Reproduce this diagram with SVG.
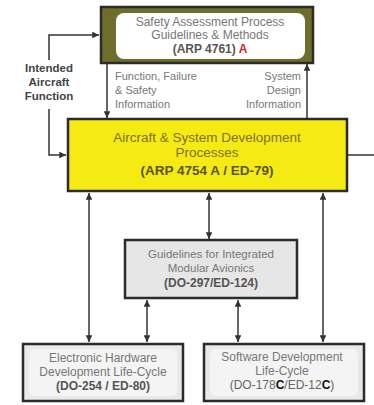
<svg xmlns="http://www.w3.org/2000/svg" width="374" height="405" viewBox="0 0 374 405">
  <style>
    text { font-family: "Liberation Sans", Arial, sans-serif; text-anchor: middle; }
    .lbl { font-size: 11px; fill: #777; }
    .lblb { font-size: 11.5px; fill: #444; font-weight: bold; }
    .gray { font-size: 12px; fill: #777; }
    .grayb { font-size: 12px; fill: #555; font-weight: bold; }
    .yel { font-size: 13.5px; fill: #7a7222; }
    .yelb { font-size: 13.5px; fill: #5a5418; font-weight: bold; }
    .conn { fill: none; stroke: #333; stroke-width: 1.5; }
    .box { stroke: #2b2b2b; stroke-width: 2.5; }
  </style>
  <defs>
    <marker id="ah" viewBox="0 0 10 10" refX="10" refY="5" markerWidth="4.5" markerHeight="4.5" orient="auto-start-reverse">
      <path d="M0,0 L10,5 L0,10 z" fill="#333"/>
    </marker>
  </defs>

  <rect width="374" height="405" fill="#ffffff"/>

  <!-- connectors -->
  <g id="connectors">
    <!-- intended aircraft function feeds -->
    <polyline class="conn" points="49,60 49,35 99,35" marker-end="url(#ah)"/>
    <polyline class="conn" points="49,109 49,155 66,155" marker-end="url(#ah)"/>
    <!-- safety assessment exchange -->
    <line class="conn" x1="107" y1="64" x2="107" y2="118" marker-end="url(#ah)"/>
    <line class="conn" x1="307" y1="118" x2="307" y2="64" marker-end="url(#ah)"/>
    <!-- output to the right -->
    <line class="conn" x1="347" y1="155" x2="374" y2="155"/>
    <!-- development process links -->
    <line class="conn" x1="89" y1="193" x2="89" y2="342" marker-start="url(#ah)" marker-end="url(#ah)"/>
    <line class="conn" x1="209" y1="193" x2="209" y2="239" marker-start="url(#ah)" marker-end="url(#ah)"/>
    <line class="conn" x1="323" y1="193" x2="323" y2="342" marker-start="url(#ah)" marker-end="url(#ah)"/>
    <line class="conn" x1="147" y1="300" x2="147" y2="342" marker-start="url(#ah)" marker-end="url(#ah)"/>
    <line class="conn" x1="238" y1="300" x2="238" y2="342" marker-start="url(#ah)" marker-end="url(#ah)"/>
  </g>

  <!-- connector labels -->
  <g id="labels">
    <text class="lblb" x="49" y="72">Intended</text>
    <text class="lblb" x="49" y="86">Aircraft</text>
    <text class="lblb" x="49" y="100">Function</text>
    <text class="lbl" x="115" y="80" style="text-anchor:start">Function, Failure</text>
    <text class="lbl" x="115" y="94" style="text-anchor:start">&amp; Safety</text>
    <text class="lbl" x="115" y="108" style="text-anchor:start">Information</text>
    <text class="lbl" x="301" y="80" style="text-anchor:end">System</text>
    <text class="lbl" x="301" y="94" style="text-anchor:end">Design</text>
    <text class="lbl" x="301" y="108" style="text-anchor:end">Information</text>
  </g>

  <!-- safety assessment node -->
  <g id="arp4761">
    <rect class="box" x="101" y="7" width="212" height="56" fill="#6e6d2b"/>
    <rect x="116" y="13" width="189" height="46" rx="8" fill="#ffffff"/>
    <text class="gray" x="210" y="26">Safety Assessment Process</text>
    <text class="gray" x="210" y="39">Guidelines &amp; Methods</text>
    <text class="grayb" x="210" y="53">(ARP 4761) <tspan fill="#e0202a">A</tspan></text>
  </g>

  <!-- aircraft and system development node -->
  <g id="arp4754">
    <rect class="box" x="68" y="119" width="279" height="72" fill="#f6ea14"/>
    <text class="yel" x="207" y="142">Aircraft &amp; System Development</text>
    <text class="yel" x="207" y="157">Processes</text>
    <text class="yelb" x="207" y="175">(ARP 4754 A / ED-79)</text>
  </g>

  <!-- integrated modular avionics node -->
  <g id="do297">
    <rect class="box" x="125" y="240" width="172" height="58" fill="#e6e6e6"/>
    <text class="gray" x="211" y="258" style="font-size:11.5px">Guidelines for Integrated</text>
    <text class="gray" x="211" y="272" style="font-size:11.5px">Modular Avionics</text>
    <text class="grayb" x="211" y="287">(DO-297/ED-124)</text>
  </g>

  <!-- hardware life-cycle node -->
  <g id="do254">
    <rect class="box" x="23" y="344" width="160" height="57" fill="#e9e9e9"/>
    <rect x="29" y="349" width="148" height="47" rx="6" fill="#f4f4f4"/>
    <text class="gray" x="103" y="362">Electronic Hardware</text>
    <text class="gray" x="103" y="376">Development Life-Cycle</text>
    <text class="grayb" x="103" y="390">(DO-254 / ED-80)</text>
  </g>

  <!-- software life-cycle node -->
  <g id="do178">
    <rect class="box" x="204" y="344" width="160" height="57" fill="#e9e9e9"/>
    <rect x="210" y="349" width="148" height="47" rx="6" fill="#f4f4f4"/>
    <text class="gray" x="282" y="361">Software Development</text>
    <text class="gray" x="282" y="375">Life-Cycle</text>
    <text class="grayb" x="282" y="389" style="font-weight:normal;fill:#666">(DO-178<tspan font-weight="bold" fill="#111">C</tspan>/ED-12<tspan font-weight="bold" fill="#111">C</tspan>)</text>
  </g>
</svg>
